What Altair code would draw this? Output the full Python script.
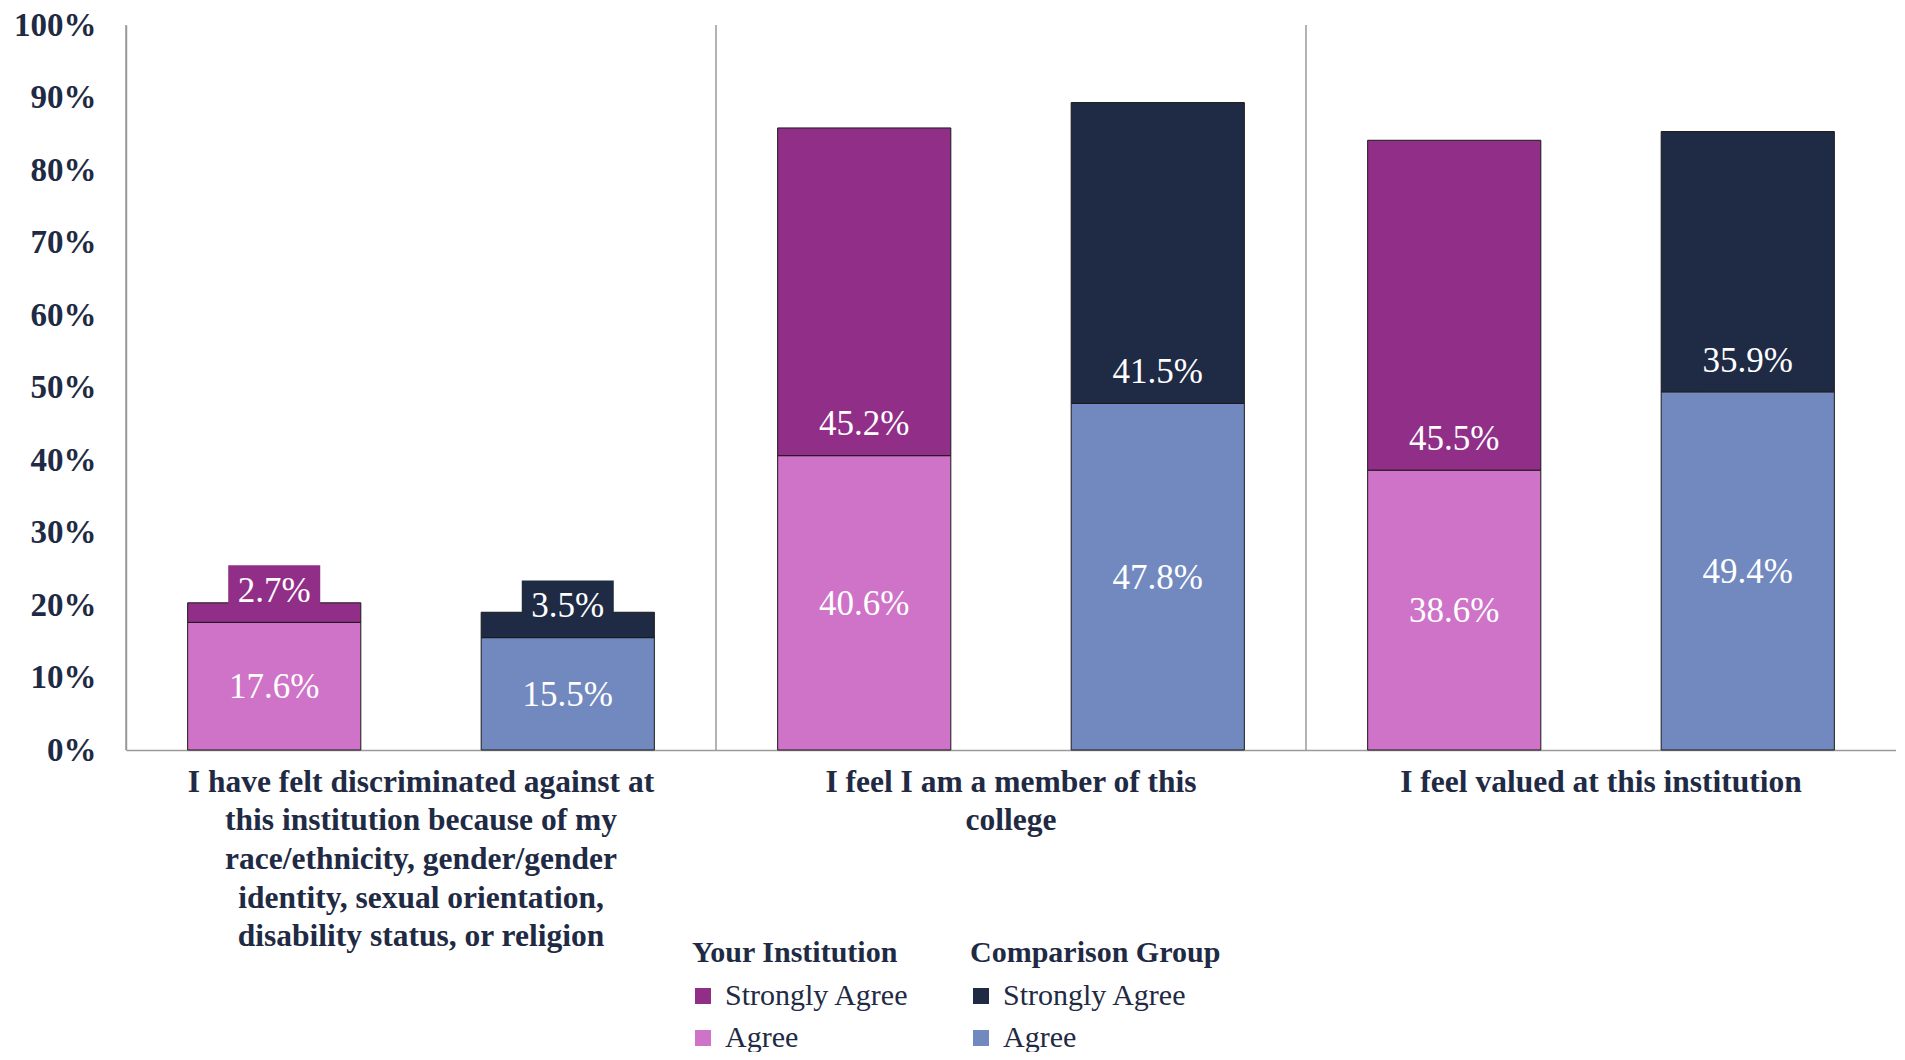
import altair as alt
import pandas as pd

# ---------------- data ----------------
categories = [
    "I have felt discriminated against at|this institution because of  my|race/ethnicity, gender/gender|identity, sexual orientation,|disability status, or religion",
    "I feel I am a member of  this|college",
    "I feel valued at this institution",
]
groups = ["Your Institution", "Comparison Group"]
levels = ["Strongly Agree", "Agree"]

inst_agree = [17.6, 40.6, 38.6]
inst_strong = [2.7, 45.2, 45.5]
comp_agree = [15.5, 47.8, 49.4]
comp_strong = [3.5, 41.5, 35.9]

inst_colors = ["#912F88", "#CE73C7"]   # Strongly Agree, Agree
comp_colors = ["#1F2A45", "#7289C0"]

y_ticks = [0, 10, 20, 30, 40, 50, 60, 70, 80, 90, 100]

# ---------------- table ----------------
rows = []
for g, agree, strong in [(groups[0], inst_agree, inst_strong), (groups[1], comp_agree, comp_strong)]:
    for c, a, s in zip(categories, agree, strong):
        rows.append(dict(cat=c, group=g, level="Agree", value=a, base=0.0, top=a, label=f"{a:.1f}%"))
        rows.append(dict(cat=c, group=g, level="Strongly Agree", value=s, base=a, top=a + s, label=f"{s:.1f}%"))
df = pd.DataFrame(rows)
# separate (trailing-space) keys so the two legends stay apart
df["level_comp"] = df["level"] + " "
levels_comp = [l + " " for l in levels]
cat_df = pd.DataFrame({"cat": categories})

FONT = "Liberation Serif"
TXT = "#1F2A44"
GRAY = "#9A9A9A"

def X(**kw):
    return alt.X(
        "cat:N",
        sort=categories,
        scale=alt.Scale(paddingInner=0, paddingOuter=0),
        axis=alt.Axis(
            title=None, labelAngle=0, ticks=False, domainColor=GRAY, domainWidth=1.5,
            labelFont=FONT, labelFontSize=31.5, labelFontWeight="bold", labelColor=TXT,
            labelLineHeight=38.7, labelPadding=16, labelLimit=0,
            labelExpr="split(datum.label, '|')",
        ),
        **kw,
    )

XO = alt.XOffset("group:N", sort=groups,
                 scale=alt.Scale(domain=groups, paddingInner=0.41, paddingOuter=0.21))

YSCALE = alt.Scale(domain=[0, 100], nice=False)
YAXIS = alt.Axis(
    title=None, values=y_ticks, ticks=False, grid=False, domainColor=GRAY, domainWidth=1.5,
    labelFont=FONT, labelFontSize=33, labelFontWeight="bold", labelColor=TXT,
    labelPadding=30, labelExpr="datum.value + '%'",
)

def legend(title, lx):
    return alt.Legend(
        title=title, orient="none", legendX=lx, legendY=913, direction="vertical",
        symbolType="square", symbolSize=256, symbolStrokeWidth=0, symbolOffset=-4,
        labelFont=FONT, labelFontSize=30, labelColor=TXT, labelOffset=7, labelLimit=0,
        titleFont=FONT, titleFontSize=30, titleFontWeight="bold", titleColor=TXT,
        titleLimit=0, titlePadding=13, rowPadding=12, padding=0,
    )

rules = alt.Chart(cat_df).mark_rule(color=GRAY, strokeWidth=1.5).encode(
    x=X(bandPosition=0)
)

inst_bars = alt.Chart(df).transform_filter(alt.datum.group == groups[0]).mark_bar(
    stroke="#1a1a1a", strokeWidth=1
).encode(
    x=X(), xOffset=XO,
    y=alt.Y("base:Q", scale=YSCALE, axis=YAXIS), y2="top:Q",
    color=alt.Color("level:N", scale=alt.Scale(domain=levels, range=inst_colors),
                    legend=legend("Your Institution", 566)),
)

comp_bars = alt.Chart(df).transform_filter(alt.datum.group == groups[1]).mark_bar(
    stroke="#1a1a1a", strokeWidth=1
).encode(
    x=X(), xOffset=XO,
    y=alt.Y("base:Q", scale=YSCALE, axis=YAXIS), y2="top:Q",
    fill=alt.Fill("level_comp:N", scale=alt.Scale(domain=levels_comp, range=comp_colors),
                  legend=legend("Comparison Group", 844)),
)

label_base = alt.Chart(df).transform_calculate(
    ylab="datum.level == 'Agree' ? datum.value / 2 : datum.base + 4.45"
)

BOX = "M-1,-0.54 L1,-0.54 L1,0.54 L-1,0.54 Z"
boxes = []
for g, col in [(groups[0], inst_colors[0]), (groups[1], comp_colors[0])]:
    boxes.append(
        label_base.transform_filter(
            (alt.datum.group == g) & (alt.datum.level == "Strongly Agree")
        ).mark_point(shape=BOX, size=8464, filled=True, opacity=1, strokeWidth=0, fill=col).encode(
            x=X(), xOffset=XO, y=alt.Y("ylab:Q", scale=YSCALE, axis=YAXIS)
        )
    )

texts = label_base.mark_text(
    color="white", font=FONT, fontSize=35, baseline="middle", align="center", dy=1
).encode(
    x=X(), xOffset=XO, y=alt.Y("ylab:Q", scale=YSCALE, axis=YAXIS), text="label:N"
)

chart = alt.layer(rules, inst_bars, comp_bars, *boxes, texts).properties(
    width=1770, height=725,
    autosize=alt.AutoSizeParams(type="none"),
    padding={"left": 118, "top": 17, "right": 0, "bottom": 302},
    background="white",
).configure_view(stroke=None)

chart.save("out.html", embed_options={"renderer": "svg", "actions": False})
